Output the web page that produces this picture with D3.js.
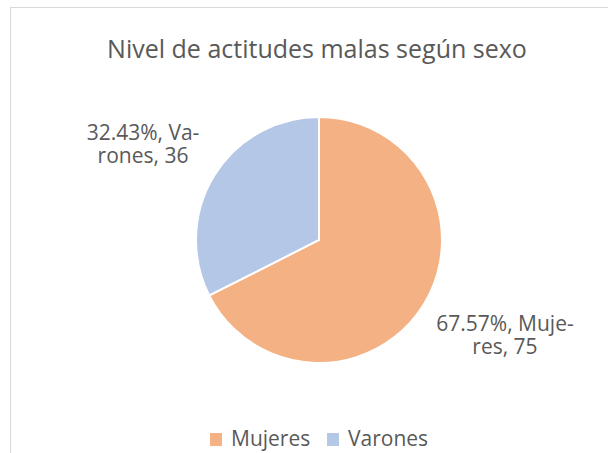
<!DOCTYPE html>
<html>
<head>
<meta charset="utf-8">
<script src="https://cdn.jsdelivr.net/npm/d3@7"></script>
<style>
  body { margin: 0; background: #fff; }
  text { font-family: "Open Sans", "Noto Sans", sans-serif; fill: #595959; }
</style>
</head>
<body>
<div id="chart"></div>
<script>
const categories = ["Mujeres", "Varones"];
const values = [75, 36];
const percents = ["67.57%", "32.43%"];
const labelLines = [["67.57%, Muje-", "res, 75"], ["32.43%, Va-", "rones, 36"]];
const colors = ["#F4B183", "#B4C7E7"];

const width = 608, height = 453;
const svg = d3.select("#chart").append("svg")
    .attr("width", width)
    .attr("height", height);

// chart frame (cut off right and bottom)
svg.append("rect")
    .attr("x", 10.5).attr("y", 7.5)
    .attr("width", 620).attr("height", 460)
    .attr("fill", "none")
    .attr("stroke", "#D9D9D9");

svg.append("text")
    .attr("x", 317).attr("y", 58)
    .attr("text-anchor", "middle")
    .attr("font-size", 25)
    .text("Nivel de actitudes malas según sexo");

const cx = 319, cy = 240, r = 123;
const pie = d3.pie().sort(null).value(d => d);
const arcs = pie(values);
const arc = d3.arc().innerRadius(0).outerRadius(r);

const g = svg.append("g").attr("transform", `translate(${cx},${cy})`);
g.selectAll("path")
    .data(arcs)
    .join("path")
    .attr("d", arc)
    .attr("fill", (d, i) => colors[i])
    .attr("stroke", "#fff")
    .attr("stroke-width", 2);

// data labels placed outside
const labelPos = [[505, 331], [143, 140]];
const lbl = svg.append("g").selectAll("text")
    .data(labelLines)
    .join("text")
    .attr("text-anchor", "middle")
    .attr("font-size", 21)
    .attr("x", (d, i) => labelPos[i][0])
    .attr("y", (d, i) => labelPos[i][1]);
lbl.selectAll("tspan")
    .data(d => d)
    .join("tspan")
    .attr("x", function() { return this.parentNode.getAttribute("x"); })
    .attr("dy", (d, j) => j === 0 ? 0 : 23)
    .text(d => d);

// legend
const legendX = [210, 327];
const leg = svg.append("g").selectAll("g")
    .data(categories)
    .join("g")
    .attr("transform", (d, i) => `translate(${legendX[i]},433)`);
leg.append("rect")
    .attr("width", 12).attr("height", 13)
    .attr("fill", (d, i) => colors[i]);
leg.append("text")
    .attr("x", 21).attr("y", 13)
    .attr("font-size", 21)
    .text(d => d);
</script>
</body>
</html>
